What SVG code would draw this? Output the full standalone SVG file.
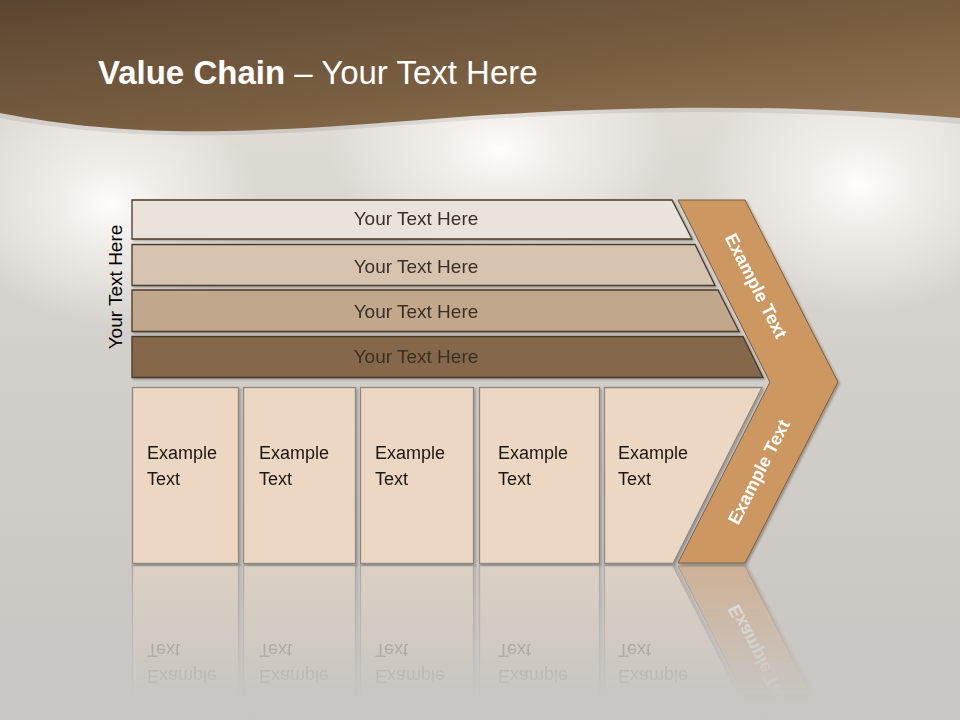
<svg xmlns="http://www.w3.org/2000/svg" xmlns:xlink="http://www.w3.org/1999/xlink" width="960" height="720" viewBox="0 0 960 720">
<defs>
  <linearGradient id="bgBase" x1="0" y1="0" x2="0" y2="1">
    <stop offset="0" stop-color="#e6e1db"/>
    <stop offset="0.5" stop-color="#d3cfca"/>
    <stop offset="1" stop-color="#c8c5c2"/>
  </linearGradient>
  <radialGradient id="glow" cx="0.5" cy="0.5" r="0.5">
    <stop offset="0" stop-color="#ffffff" stop-opacity="0.95"/>
    <stop offset="0.4" stop-color="#fbf8f4" stop-opacity="0.6"/>
    <stop offset="1" stop-color="#ffffff" stop-opacity="0"/>
  </radialGradient>
  <linearGradient id="banner" x1="0" y1="0" x2="1" y2="1">
    <stop offset="0" stop-color="#5b4631"/>
    <stop offset="0.6" stop-color="#7c6143"/>
    <stop offset="1" stop-color="#967757"/>
  </linearGradient>
  <linearGradient id="fadeGrad" gradientUnits="userSpaceOnUse" x1="0" y1="564" x2="0" y2="700">
    <stop offset="0" stop-color="#fff" stop-opacity="0.5"/>
    <stop offset="0.75" stop-color="#fff" stop-opacity="0.1"/>
    <stop offset="1" stop-color="#fff" stop-opacity="0"/>
  </linearGradient>
  <mask id="fade" maskUnits="userSpaceOnUse" x="0" y="560" width="960" height="160">
    <rect x="0" y="564" width="960" height="156" fill="url(#fadeGrad)"/>
  </mask>
  <filter id="shadow" x="-5%" y="-5%" width="115%" height="115%">
    <feDropShadow dx="1.5" dy="1.5" stdDeviation="1" flood-color="#000" flood-opacity="0.3"/>
  </filter>
  <style>
    .bar { stroke: #4a3a2c; stroke-width: 1.3; }
    .barText { font-family: "Liberation Sans", Arial, sans-serif; font-size: 19px; fill: #3a2f26; text-anchor: middle; }
    .box { fill: #ebd7c2; stroke: #8d8782; stroke-width: 1.3; }
    .boxText { font-family: "Liberation Sans", Arial, sans-serif; font-size: 18px; fill: #1f1712; }
    .chev { fill: #cd9762; stroke: #7d5e3e; stroke-width: 1; }
    .chevText { font-family: "Liberation Sans", Arial, sans-serif; font-size: 18px; font-weight: bold; fill: #ffffff; text-anchor: middle; }
    .title { font-family: "Liberation Sans", Arial, sans-serif; font-size: 33px; fill: #ffffff; }
  </style>
</defs>

<!-- background -->
<rect x="0" y="0" width="960" height="720" fill="url(#bgBase)"/>
<ellipse cx="110" cy="205" rx="150" ry="120" fill="url(#glow)"/>
<ellipse cx="500" cy="150" rx="170" ry="110" fill="url(#glow)"/>
<ellipse cx="860" cy="185" rx="160" ry="130" fill="url(#glow)"/>
<path d="M0,118 C120,140 220,140 420,124 C600,110 760,106 960,124 L960,0 L0,0 Z" fill="#000" opacity="0.08"/>
<path d="M0,113 C120,136 220,136 420,120 C600,106 760,102 960,118 L960,0 L0,0 Z" fill="url(#banner)"/>

<text class="title" x="98" y="84"><tspan font-weight="bold">Value Chain</tspan> – Your Text Here</text>

<text class="barText" transform="translate(122,287) rotate(-90)" style="fill:#000">Your Text Here</text>

<!-- top bars -->
<g id="bar1" filter="url(#shadow)">
  <polygon class="bar" points="132,200 672,200 692,239 132,239" fill="#eae3dc"/>
  <text class="barText" x="416" y="225">Your Text Here</text>
</g>
<g id="bar2" filter="url(#shadow)">
  <polygon class="bar" points="132,244.5 695,244.5 715,285.5 132,285.5" fill="#d6c4b1"/>
  <text class="barText" x="416" y="272.5">Your Text Here</text>
</g>
<g id="bar3" filter="url(#shadow)">
  <polygon class="bar" points="132,290 718,290 739,331.5 132,331.5" fill="#c1a78b"/>
  <text class="barText" x="416" y="317.5">Your Text Here</text>
</g>
<g id="bar4" filter="url(#shadow)">
  <polygon class="bar" points="132,336.5 743,336.5 763,377.5 132,377.5" fill="#846849"/>
  <text class="barText" x="416" y="362.5">Your Text Here</text>
</g>

<!-- bottom boxes -->
<g id="box-row">
  <g id="box1" filter="url(#shadow)">
    <rect class="box" x="132.5" y="387.5" width="106" height="176"/>
    <text class="boxText" x="147" y="459">Example</text>
    <text class="boxText" x="147" y="485">Text</text>
  </g>
  <g id="box2" filter="url(#shadow)">
    <rect class="box" x="243.5" y="387.5" width="112" height="176"/>
    <text class="boxText" x="259" y="459">Example</text>
    <text class="boxText" x="259" y="485">Text</text>
  </g>
  <g id="box3" filter="url(#shadow)">
    <rect class="box" x="360.5" y="387.5" width="113" height="176"/>
    <text class="boxText" x="375" y="459">Example</text>
    <text class="boxText" x="375" y="485">Text</text>
  </g>
  <g id="box4" filter="url(#shadow)">
    <rect class="box" x="479.5" y="387.5" width="120" height="176"/>
    <text class="boxText" x="498" y="459">Example</text>
    <text class="boxText" x="498" y="485">Text</text>
  </g>
  <g id="box5" filter="url(#shadow)">
    <polygon class="box" points="604.5,387.5 762,387.5 673,563.5 604.5,563.5"/>
    <text class="boxText" x="618" y="459">Example</text>
    <text class="boxText" x="618" y="485">Text</text>
  </g>
</g>

<!-- chevron -->
<g id="chevron" filter="url(#shadow)">
  <polygon class="chev" points="678,200 745,200 838,382 745,563 678,563 770,382"/>
  <text class="chevText" transform="translate(756,286) rotate(63)" dy="6">Example Text</text>
  <text class="chevText" transform="translate(759,472) rotate(-63)" dy="6">Example Text</text>
</g>

<!-- reflection -->
<g id="reflection" mask="url(#fade)">
  <use xlink:href="#box-row" href="#box-row" transform="matrix(1,0,0,-1,0,1129)"/>
  <use xlink:href="#chevron" href="#chevron" transform="matrix(1,0,0,-1,0,1129)"/>
</g>
</svg>
